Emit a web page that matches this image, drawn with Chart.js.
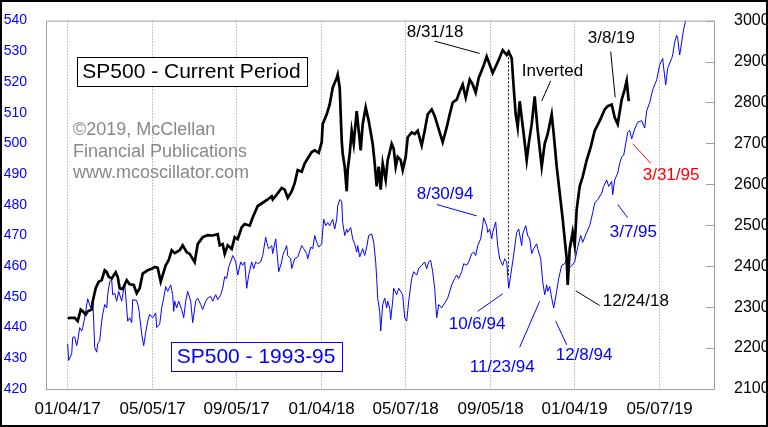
<!DOCTYPE html>
<html>
<head>
<meta charset="utf-8">
<script src="https://cdn.jsdelivr.net/npm/chart.js@4.4.1/dist/chart.umd.min.js"></script>
<style>
  html, body { margin: 0; padding: 0; background: #fff; }
</style>
</head>
<body>
<canvas id="chart" width="768" height="427"></canvas>
<script>
const FONT = "Arial, 'Liberation Sans', sans-serif";

// x = trading days counted from 01/04/17
const CURRENT_DAY = [0, 2, 7, 10, 13, 15, 18, 20, 24, 25, 28, 31, 34, 37, 39, 41, 44, 48, 50, 52, 55, 59, 62, 66, 69, 72, 75, 80, 84, 87, 90, 93, 95, 98, 101, 104, 107, 112, 115, 119, 122, 127, 130, 135, 140, 145, 150, 152, 155, 157, 160, 164, 167, 170, 174, 177, 182, 185, 190, 195, 200, 204, 205, 209, 214, 217, 220, 224, 227, 230, 234, 237, 240, 244, 247, 251, 254, 255, 259, 262, 265, 269, 270, 272, 274, 275, 277, 279, 280, 282, 284, 286, 289, 291, 293, 295, 298, 301, 305, 307, 309, 311, 313, 315, 318, 320, 324, 326, 328, 330, 333, 335, 338, 340, 344, 347, 350, 354, 357, 360, 364, 367, 370, 375, 379, 382, 385, 389, 392, 395, 398, 402, 405, 408, 411, 415, 419, 422, 425, 428, 431, 435, 439, 441, 444, 446, 448, 450, 452, 454, 456, 459, 461, 464, 467, 470, 474, 477, 480, 484, 486, 489, 492, 495, 499, 500, 502, 505, 507, 509, 512, 515, 519, 523, 527, 532, 537, 540, 544, 547, 550, 554, 557, 559, 560, 561];
const CURRENT_CLOSE = [2272, 2274, 2274, 2266, 2294, 2290, 2282, 2290, 2294, 2314, 2346, 2362, 2366, 2390, 2386, 2374, 2370, 2385, 2374, 2346, 2344, 2366, 2356, 2354, 2334, 2346, 2382, 2390, 2394, 2398, 2396, 2362, 2378, 2402, 2415, 2439, 2432, 2439, 2451, 2434, 2430, 2410, 2454, 2471, 2476, 2475, 2478, 2451, 2454, 2430, 2451, 2442, 2471, 2466, 2495, 2503, 2499, 2519, 2547, 2555, 2563, 2571, 2563, 2575, 2591, 2587, 2567, 2583, 2603, 2635, 2631, 2651, 2663, 2679, 2683, 2677, 2703, 2747, 2771, 2795, 2836, 2860, 2868, 2836, 2707, 2675, 2643, 2583, 2635, 2675, 2731, 2699, 2779, 2731, 2683, 2747, 2788, 2755, 2699, 2651, 2595, 2643, 2587, 2651, 2611, 2659, 2699, 2687, 2643, 2667, 2659, 2635, 2667, 2715, 2727, 2723, 2731, 2695, 2731, 2771, 2783, 2767, 2743, 2703, 2739, 2771, 2800, 2807, 2827, 2844, 2812, 2856, 2844, 2824, 2860, 2884, 2912, 2892, 2872, 2888, 2904, 2928, 2916, 2924, 2908, 2836, 2771, 2739, 2803, 2763, 2723, 2659, 2699, 2747, 2815, 2731, 2643, 2699, 2723, 2771, 2723, 2643, 2579, 2515, 2418, 2354, 2442, 2483, 2451, 2539, 2595, 2619, 2659, 2691, 2731, 2755, 2783, 2791, 2795, 2763, 2747, 2807, 2832, 2853, 2828, 2803];

const ANALOG_DAY = [0, 1, 4, 5, 7, 9, 10, 12, 14, 15, 17, 20, 23, 25, 26, 27, 29, 30, 32, 34, 35, 37, 39, 40, 42, 44, 45, 47, 49, 51, 54, 57, 59, 60, 62, 64, 65, 69, 71, 74, 76, 78, 80, 82, 85, 88, 89, 92, 94, 96, 98, 100, 103, 105, 106, 107, 109, 111, 114, 116, 118, 120, 123, 125, 128, 130, 133, 135, 138, 140, 143, 145, 148, 150, 153, 155, 157, 159, 161, 164, 165, 168, 170, 173, 175, 177, 179, 181, 184, 186, 188, 190, 193, 195, 198, 199, 201, 204, 205, 208, 209, 211, 214, 215, 217, 219, 220, 223, 224, 227, 230, 234, 236, 239, 240, 243, 245, 247, 249, 251, 254, 256, 258, 260, 262, 265, 267, 269, 270, 272, 274, 275, 277, 279, 280, 283, 285, 287, 289, 290, 292, 295, 297, 299, 301, 304, 306, 308, 309, 310, 312, 313, 315, 317, 319, 320, 322, 323, 325, 326, 329, 331, 335, 337, 339, 341, 344, 346, 349, 351, 354, 357, 359, 361, 363, 365, 367, 369, 371, 374, 377, 380, 384, 387, 389, 391, 394, 396, 399, 401, 404, 406, 408, 410, 413, 415, 416, 419, 420, 422, 424, 425, 428, 430, 432, 435, 437, 439, 441, 445, 449, 451, 454, 455, 458, 460, 462, 464, 466, 469, 470, 473, 475, 477, 479, 480, 482, 484, 486, 489, 491, 494, 497, 499, 500, 503, 507, 510, 513, 515, 519, 522, 525, 527, 530, 534, 536, 539, 541, 544, 545, 547, 550, 552, 554, 556, 560, 562, 564, 567, 570, 574, 577, 579, 582, 585, 589, 592, 595, 596, 598, 600, 604, 605, 607, 609, 610, 612, 614, 616, 618, 620];
const ANALOG_CLOSE = [434.7, 429.3, 431.5, 436.8, 437.0, 434.1, 435.7, 440.0, 438.9, 440.0, 443.2, 449.4, 446.4, 449.1, 442.1, 433.6, 432.0, 434.7, 435.7, 442.1, 444.3, 447.5, 446.4, 450.7, 455.0, 455.5, 450.7, 451.2, 448.6, 451.8, 448.6, 454.4, 446.4, 442.1, 443.2, 441.6, 449.1, 448.8, 446.4, 437.9, 434.1, 438.4, 442.1, 444.3, 443.2, 444.8, 440.0, 441.1, 446.4, 449.6, 453.4, 451.8, 453.9, 450.7, 445.3, 448.6, 446.4, 448.6, 445.9, 443.2, 448.6, 451.8, 448.6, 441.6, 448.6, 449.6, 447.5, 445.9, 448.6, 449.6, 450.2, 448.6, 450.7, 449.1, 450.7, 452.8, 456.6, 456.0, 459.8, 462.4, 463.5, 461.4, 457.1, 461.4, 460.3, 461.4, 452.8, 457.1, 461.4, 459.2, 461.4, 460.8, 461.4, 463.5, 469.4, 467.8, 465.7, 466.7, 464.1, 468.9, 465.7, 458.2, 461.4, 463.5, 465.1, 466.7, 463.5, 462.4, 459.2, 462.4, 463.0, 466.7, 465.7, 464.1, 462.4, 466.2, 465.7, 470.0, 467.8, 466.2, 467.3, 475.3, 473.2, 474.2, 473.2, 475.3, 472.1, 475.3, 479.6, 481.7, 481.2, 474.2, 470.0, 472.1, 471.0, 472.6, 468.9, 467.3, 464.6, 466.7, 463.0, 465.7, 463.5, 466.2, 470.0, 470.5, 467.8, 461.4, 456.0, 449.6, 445.3, 438.9, 447.5, 449.6, 446.4, 448.6, 446.4, 442.6, 448.6, 452.8, 450.7, 452.8, 450.7, 443.2, 442.1, 448.6, 456.0, 458.2, 457.1, 459.2, 460.3, 461.4, 459.2, 461.4, 461.9, 458.2, 452.8, 443.2, 447.5, 446.4, 448.0, 449.6, 453.9, 456.0, 457.1, 456.0, 458.2, 460.8, 460.3, 461.4, 464.1, 464.6, 463.5, 466.7, 468.9, 473.2, 475.8, 473.2, 471.0, 472.1, 468.9, 471.0, 474.4, 466.7, 462.4, 460.3, 462.4, 461.4, 452.8, 461.4, 471.0, 472.1, 466.7, 470.5, 473.2, 470.0, 468.9, 464.1, 465.7, 467.3, 465.7, 462.4, 455.0, 450.7, 453.9, 451.8, 453.4, 449.6, 446.4, 451.8, 456.0, 460.3, 460.8, 462.4, 460.3, 459.8, 461.4, 466.2, 470.0, 467.8, 471.0, 473.2, 477.4, 480.6, 481.7, 483.8, 486.0, 488.1, 486.0, 487.6, 483.3, 488.1, 490.3, 493.5, 495.6, 496.1, 503.6, 504.2, 501.5, 504.7, 506.9, 507.4, 505.0, 510.6, 513.3, 517.5, 520.7, 525.6, 527.7, 524.5, 519.1, 524.5, 527.7, 528.8, 533.0, 535.2, 534.1, 528.8, 533.0, 537.3, 540.0, 543.0];

const TICK_DAY = [0, 85, 169, 254, 338, 423, 507, 592];
const TICK_LABEL = ['01/04/17', '05/05/17', '09/05/17', '01/04/18', '05/07/18', '09/05/18', '01/04/19', '05/07/19'];

const INVERT_DAY = 440;

// callouts, placed in (trading day, 1993-95 axis value)
const NOTES = [
  { text: '8/31/18', color: '#000000', at: [339, 536.2], line: [[367, 533.3], [412, 529.3]] },
  { text: 'Inverted', color: '#000000', at: [454, 523.6], line: [[483, 520.4], [474, 513.8]] },
  { text: '3/8/19', color: '#000000', at: [520, 534.1], line: [[543, 529.9], [547.5, 515.0]] },
  { text: '3/31/95', color: '#ff0000', at: [575, 489.6], line: [[565, 499.9], [583, 493.5]] },
  { text: '3/7/95', color: '#0000ff', at: [542, 471.0], line: [[550, 480.1], [560, 475.8]] },
  { text: '12/24/18', color: '#000000', at: [535, 448.6], line: [[508, 452.0], [532, 447.2]] },
  { text: '12/8/94', color: '#0000ff', at: [488, 430.9], line: [[488, 442.1], [499, 434.4]] },
  { text: '11/23/94', color: '#0000ff', at: [402, 427.1], line: [[452, 433.6], [472, 448.6]] },
  { text: '10/6/94', color: '#0000ff', at: [381, 441.1], line: [[410, 445.3], [435, 451.0]] },
  { text: '8/30/94', color: '#0000ff', at: [349, 483.3], line: [[369, 480.1], [409, 476.4]] }
];
const BOXES = [
  { text: 'SP500 - Current Period', color: '#000000', at: [14.6, 523.5] },
  { text: 'SP500 - 1993-95', color: '#0000ff', at: [109, 430.6] }
];
const CREDIT = ['\u00A92019, McClellan', 'Financial Publications', 'www.mcoscillator.com'];
const CREDIT_AT = [[5.3, 504.2], [5.3, 497.2], [5.3, 490.3]];

function valueAt(days, vals, d) {
  for (let i = 1; i < days.length; i++) {
    if (days[i] >= d) {
      const t = (d - days[i - 1]) / (days[i] - days[i - 1]);
      return vals[i - 1] + t * (vals[i] - vals[i - 1]);
    }
  }
  return vals[vals.length - 1];
}

const overlay = {
  id: 'overlay',
  afterDatasetsDraw(chart) {
    const { ctx, chartArea: a, scales: { x, y, y2 } } = chart;
    const px = d => x.getPixelForValue(d);
    const py = v => y.getPixelForValue(v);
    ctx.save();

    // dotted line where the analog flips
    const ix = Math.round(px(INVERT_DAY)) + 0.5;
    ctx.strokeStyle = '#000';
    ctx.lineWidth = 1;
    ctx.setLineDash([2, 2]);
    ctx.beginPath();
    ctx.moveTo(ix, y2.getPixelForValue(valueAt(CURRENT_DAY, CURRENT_CLOSE, INVERT_DAY)));
    ctx.lineTo(ix, py(valueAt(ANALOG_DAY, ANALOG_CLOSE, INVERT_DAY)));
    ctx.stroke();
    ctx.setLineDash([]);

    // plot frame + inner ticks on right axis
    ctx.strokeStyle = '#a0a0a0';
    ctx.strokeRect(a.left + 0.5, a.top + 0.5, a.right - a.left - 1, a.bottom - a.top);
    y2.ticks.forEach(t => {
      const yy = Math.round(y2.getPixelForValue(t.value)) + 0.5;
      ctx.beginPath();
      ctx.moveTo(a.right - 9, yy);
      ctx.lineTo(a.right, yy);
      ctx.stroke();
    });

    // credit text
    ctx.font = '18px ' + FONT;
    ctx.fillStyle = '#888888';
    ctx.textBaseline = 'middle';
    ctx.textAlign = 'left';
    CREDIT.forEach((s, i) => ctx.fillText(s, px(CREDIT_AT[i][0]), py(CREDIT_AT[i][1])));

    // boxed titles
    ctx.font = '21px ' + FONT;
    BOXES.forEach(b => {
      const tx = px(b.at[0]), ty = py(b.at[1]);
      const w = ctx.measureText(b.text).width;
      const bx = Math.round(tx - 5.5) + 0.5, by = Math.round(ty - 14.5) + 0.5;
      ctx.fillStyle = '#fff';
      ctx.fillRect(bx, by, w + 12, 29);
      ctx.strokeStyle = b.color;
      ctx.lineWidth = 1;
      ctx.strokeRect(bx, by, Math.round(w + 12), 29);
      ctx.fillStyle = b.color;
      ctx.fillText(b.text, tx, ty + 1);
    });

    // callouts
    ctx.font = '17px ' + FONT;
    NOTES.forEach(n => {
      ctx.strokeStyle = n.color;
      ctx.lineWidth = 1;
      ctx.beginPath();
      ctx.moveTo(px(n.line[0][0]), py(n.line[0][1]));
      ctx.lineTo(px(n.line[1][0]), py(n.line[1][1]));
      ctx.stroke();
      ctx.fillStyle = n.color;
      ctx.fillText(n.text, px(n.at[0]), py(n.at[1]));
    });

    // outer frame
    ctx.strokeStyle = '#000';
    ctx.lineWidth = 2;
    ctx.strokeRect(1, 1, chart.width - 2, chart.height - 2);
    ctx.restore();
  }
};

new Chart(document.getElementById('chart'), {
  type: 'line',
  data: {
    datasets: [
      {
        label: 'SP500 - Current Period',
        data: CURRENT_DAY.map((d, i) => ({ x: d, y: CURRENT_CLOSE[i] })),
        yAxisID: 'y2',
        borderColor: '#000000',
        borderWidth: 2.7,
        pointRadius: 0,
        tension: 0
      },
      {
        label: 'SP500 - 1993-95',
        data: ANALOG_DAY.map((d, i) => ({ x: d, y: ANALOG_CLOSE[i] })),
        yAxisID: 'y',
        borderColor: '#0000ff',
        borderWidth: 1,
        pointRadius: 0,
        tension: 0
      }
    ]
  },
  options: {
    responsive: false,
    animation: false,
    events: [],
    layout: { padding: { top: 15, left: 0, right: 0, bottom: 0 } },
    plugins: { legend: { display: false }, tooltip: { enabled: false } },
    scales: {
      x: {
        type: 'linear',
        min: -21.7,
        max: 647.3,
        afterBuildTicks: s => { s.ticks = TICK_DAY.map(v => ({ value: v })); },
        afterFit: s => { s.height = 38; },
        ticks: {
          callback: (v, i) => TICK_LABEL[i],
          color: '#000',
          font: { family: FONT, size: 17 },
          padding: 10,
          maxRotation: 0,
          autoSkip: false
        },
        grid: { color: '#8c8c8c', lineWidth: 1, drawTicks: false },
        border: { display: false, dash: [1, 2] }
      },
      y: {
        position: 'left',
        min: 420,
        max: 540,
        afterFit: s => { s.width = 46; },
        ticks: { stepSize: 10, color: '#0000ff', font: { family: FONT, size: 14 }, padding: 11, callback: v => String(v) },
        grid: { display: false },
        border: { display: false }
      },
      y2: {
        position: 'right',
        min: 2100,
        max: 3000,
        afterFit: s => { s.width = 53; },
        ticks: { stepSize: 100, color: '#000', font: { family: FONT, size: 16 }, padding: 11, callback: v => String(v) },
        grid: { display: false },
        border: { display: false }
      }
    }
  },
  plugins: [overlay]
});
</script>
</body>
</html>
